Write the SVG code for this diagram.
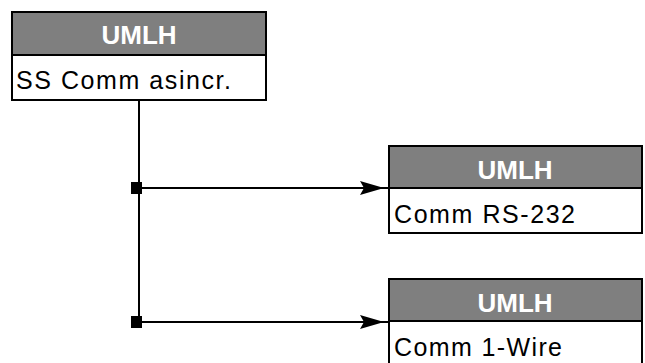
<svg xmlns="http://www.w3.org/2000/svg" width="645" height="363" viewBox="0 0 645 363">
  <style>
    .frame { fill: #ffffff; stroke: #000000; stroke-width: 2; }
    .head { fill: #7f7f7f; stroke: #000000; stroke-width: 2; }
    .title { font-family: "Liberation Sans", Arial, sans-serif; font-weight: bold; font-size: 26px; fill: #ffffff; text-anchor: middle; }
    .label { font-family: "Liberation Sans", Arial, sans-serif; font-size: 25px; fill: #000000; }
    .wire { fill: none; stroke: #000000; stroke-width: 2; }
  </style>
  <rect width="645" height="363" fill="#ffffff"/>

  <g id="connectors">
    <path class="wire" d="M139,100 V322"/>
    <path class="wire" d="M137,188 H389"/>
    <path class="wire" d="M137,322 H389"/>
    <path d="M360,181 L384,188 L360,195 L364,188 Z" fill="#000000"/>
    <path d="M360,315 L384,322 L360,329 L364,322 Z" fill="#000000"/>
    <rect x="131" y="182" width="11" height="12" fill="#000000"/>
    <rect x="131" y="316" width="11" height="12" fill="#000000"/>
  </g>

  <g id="ss-comm-asincr">
    <rect class="frame" x="12" y="12" width="254" height="88"/>
    <rect class="head" x="12" y="12" width="254" height="43"/>
    <text class="title" x="139" y="44">UMLH</text>
    <text class="label" x="16" y="89" textLength="215" lengthAdjust="spacing">SS Comm asincr.</text>
  </g>

  <g id="comm-rs-232">
    <rect class="frame" x="389" y="146" width="253" height="87"/>
    <rect class="head" x="389" y="146" width="253" height="42"/>
    <text class="title" x="515" y="179">UMLH</text>
    <text class="label" x="394" y="223" textLength="181" lengthAdjust="spacing">Comm RS-232</text>
  </g>

  <g id="comm-1-wire">
    <rect class="frame" x="389" y="279" width="253" height="90"/>
    <rect class="head" x="389" y="279" width="253" height="42"/>
    <text class="title" x="515" y="312">UMLH</text>
    <text class="label" x="394" y="356" textLength="168" lengthAdjust="spacing">Comm 1-Wire</text>
  </g>
</svg>
